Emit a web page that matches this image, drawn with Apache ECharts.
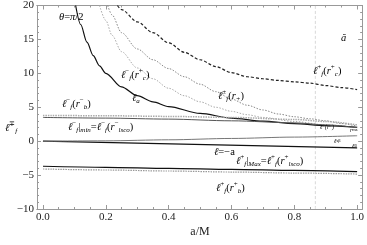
<!DOCTYPE html>
<html><head><meta charset="utf-8">
<script src="https://cdn.jsdelivr.net/npm/echarts@6/dist/echarts.min.js"></script>
<style>html,body{margin:0;padding:0;background:#fff}#c{width:367px;height:245px}</style>
</head><body><div id="c"></div>
<script>
// ---- tick values ----
const xTickLabels = [0, 0.2, 0.4, 0.6, 0.8, 1.0];
const xMinorTicks = [0.05,0.1,0.15,0.25,0.3,0.35,0.45,0.5,0.55,0.65,0.7,0.75,0.85,0.9,0.95];
const yTickLabels = [-10, -5, 0, 5, 10, 15, 20];
const yMinorTicks = [-9,-8,-7,-6,-4,-3,-2,-1,1,2,3,4,6,7,8,9,11,12,13,14,16,17,18,19];

// ---- curves (a/M, l) ----
const la_a = [0.104, 0.12, 0.14, 0.16, 0.18, 0.2, 0.25, 0.3, 0.35, 0.4, 0.5, 0.6, 0.7, 0.8, 0.9, 1.0];
const la_l = [20, 17.2, 14.6, 12.6, 11.1, 10.0, 8.0, 6.7, 5.8, 5.1, 4.1, 3.4, 2.95, 2.6, 2.3, 2.05];

const rcPlus_a = [0.237, 0.25, 0.3, 0.35, 0.4, 0.45, 0.5, 0.55, 0.6, 0.65, 0.7, 0.75, 0.8, 0.85, 0.9, 0.95, 1.0];
const rcPlus_l = [20, 19.4, 17.6, 16.0, 14.5, 13.1, 12.0, 11.0, 10.1, 9.5, 9.2, 8.95, 8.75, 8.55, 8.2, 7.9, 7.6];

const rPlus_a = [0.206, 0.22, 0.25, 0.3, 0.35, 0.4, 0.45, 0.5, 0.55, 0.6, 0.65, 0.7, 0.75, 0.8, 0.85, 0.9, 0.95, 1.0];
const rPlus_l = [20, 18.6, 16.0, 13.6, 12.0, 10.7, 9.5, 8.4, 7.3, 6.2, 5.3, 4.6, 4.0, 3.6, 3.3, 3.0, 2.6, 2.2];

const rcMinus_a = [0.18, 0.2, 0.22, 0.25, 0.3, 0.35, 0.4, 0.45, 0.5, 0.55, 0.6, 0.65, 0.7, 0.8, 0.9, 1.0];
const rcMinus_l = [20, 17.8, 15.6, 13.2, 10.8, 9.2, 7.8, 6.7, 5.8, 5.0, 4.4, 3.9, 3.5, 2.9, 2.4, 2.0];

const flat_a = [0, 0.2, 0.4, 0.6, 0.8, 0.9, 1.0];
const rbMinus_l = [3.8, 3.75, 3.65, 3.5, 3.2, 2.9, 2.4];
const lscoMinus_l = [3.5, 3.4, 3.25, 3.0, 2.7, 2.4, 2.0];

const lin_a = [0, 1.0];
const negA_l = [0, -1.0];
const betaS_a = [0, 0.2, 0.4, 0.6, 0.8, 1.0];
const betaS_l = [0, 0.05, 0.2, 0.4, 0.6, 0.8];

const low_a = [0, 0.2, 0.4, 0.6, 0.8, 1.0];
const lscoPlus_l = [-3.7, -3.85, -4.0, -4.15, -4.3, -4.5];
const rbPlus_l = [-4.1, -4.25, -4.4, -4.55, -4.7, -4.85];

const vLineA = 0.867;

// ---- build ----
const pairs = (xs, ys) => xs.map((x, i) => [x, ys[i]]);
const SERIF = 'Liberation Serif';
const X_MIN = -0.019, X_MAX = 1.016, Y_MIN = -10, Y_MAX = 20;

function line(data, color, width, type, z) {
  return { type: 'line', data, showSymbol: false, smooth: 0.3, smoothMonotone: 'x',
    lineStyle: { color, width, type }, z: z || 2, silent: true, animation: false };
}

const series = [
  line(pairs([vLineA, vLineA], [Y_MIN, Y_MAX]), '#d8d8d8', 1, [3, 2], 1),
  line(pairs(rcPlus_a, rcPlus_l), '#222', 1.2, [3, 2]),
  line(pairs(rPlus_a, rPlus_l), '#888', 1, [1.5, 1.5]),
  line(pairs(rcMinus_a, rcMinus_l), '#aaa', 1, [1.5, 1.5]),
  line(pairs(la_a, la_l), '#111', 1.2, 'solid'),
  line(pairs(flat_a, rbMinus_l), '#aaa', 1.5, [1.5, 1]),
  line(pairs(flat_a, lscoMinus_l), '#555', 1, 'solid'),
  line(pairs(lin_a, negA_l), '#111', 1.2, 'solid'),
  line(pairs(betaS_a, betaS_l), '#777', 1, 'solid'),
  line(pairs(low_a, rbPlus_l), '#999', 1.2, [1.5, 1]),
  line(pairs(low_a, lscoPlus_l), '#111', 1.2, 'solid')
];

function xAx(pos, ticks, len, labels) {
  return { type: 'value', position: pos, min: X_MIN, max: X_MAX,
    axisLine: { show: true, onZero: false, lineStyle: { color: '#999', width: 1 } },
    axisTick: { show: true, inside: true, length: len, customValues: ticks, lineStyle: { color: '#999' } },
    axisLabel: labels ? { show: true, customValues: ticks, formatter: v => v.toFixed(1), fontFamily: SERIF, fontSize: 11, color: '#222', margin: 3 } : { show: false },
    splitLine: { show: false } };
}
function yAx(pos, ticks, len, labels) {
  return { type: 'value', position: pos, min: Y_MIN, max: Y_MAX,
    axisLine: { show: true, onZero: false, lineStyle: { color: '#999', width: 1 } },
    axisTick: { show: true, inside: true, length: len, customValues: ticks, lineStyle: { color: '#999' } },
    axisLabel: labels ? { show: true, customValues: ticks, formatter: v => (v < 0 ? '\u2212' + (-v) : '' + v), fontFamily: SERIF, fontSize: 11, color: '#222', margin: 3 } : { show: false },
    splitLine: { show: false } };
}

const rich = {
  n: { fontFamily: SERIF, fontStyle: 'italic', fontSize: 10.5, color: '#334', lineHeight: 14 },
  r: { fontFamily: SERIF, fontSize: 10.5, color: '#334', lineHeight: 14 },
  sub: { fontFamily: SERIF, fontStyle: 'italic', fontSize: 7, color: '#334', verticalAlign: 'bottom', lineHeight: 10 },
  sup: { fontFamily: SERIF, fontSize: 7, color: '#334', verticalAlign: 'top', lineHeight: 10 },
  t: { fontFamily: SERIF, fontStyle: 'italic', fontSize: 6, color: '#334', lineHeight: 8 },
  ts: { fontFamily: SERIF, fontSize: 4.5, color: '#334', lineHeight: 6 }
};
function label(x, y, text, align) {
  return { type: 'text', x, y, silent: true, z: 10,
    style: { text, rich, align: align || 'left', verticalAlign: 'middle' } };
}
const graphics = [
  label(59, 17, '{n|θ}{r|=}{n|π}{r|/2}'),
  label(121, 75, '{n|ℓ}{sup|−}{sub|f}{r|(}{n|r}{sup|+}{sub|c}{r|)}'),
  label(132, 98, '{n|ℓ}{sub|a}'),
  label(218, 96, '{n|ℓ}{sup|±}{sub|f}{r|(}{n|r}{sub|+}{r|)}'),
  label(341, 38, '{n|ă}'),
  label(313, 71, '{n|ℓ}{sup|+}{sub|f}{r|(}{n|r}{sup|+}{sub|c}{r|)}'),
  label(62, 104, '{n|ℓ}{sup|−}{sub|f}{r|(}{n|r}{sup|−}{sub|b}{r|)}'),
  label(68, 127, '{n|ℓ}{sup|−}{sub|f}{r||}{sub|min}{r|=}{n|ℓ}{sup|−}{sub|f}{r|(}{n|r}{sup|−}{sub|lsco}{r|)}'),
  label(320, 127, '{t|ℓ}{ts|−}{t|(r}{ts|−}{t|)}'),
  label(350, 130, '{t|r}{ts|ms}'),
  label(334, 141, '{t|ℓ}{ts|s}{ts|β}'),
  label(352, 146, '{t|ℓ}{ts|β}'),
  label(214, 152, '{n|ℓ}{r|=−a}'),
  label(236, 161, '{n|ℓ}{sup|+}{sub|f}{r||}{sub|Max}{r|=}{n|ℓ}{sup|+}{sub|f}{r|(}{n|r}{sup|+}{sub|lsco}{r|)}'),
  label(216, 188, '{n|ℓ}{sup|+}{sub|f}{r|(}{n|r}{sup|+}{sub|b}{r|)}'),
  label(5, 128, '{n|ℓ}{sup|∓}{sub|f}'),
  { type: 'text', x: 200, y: 232, silent: true, style: { text: 'a/M', font: '12px "Liberation Serif"', fill: '#222', align: 'center', verticalAlign: 'middle' } }
];

const chart = echarts.init(document.getElementById('c'), null, { renderer: 'canvas' });
chart.setOption({
  animation: false,
  backgroundColor: '#fff',
  grid: { left: 37, top: 5, right: 3, bottom: 36, containLabel: false },
  xAxis: [xAx('bottom', xTickLabels, 4, true), xAx('bottom', xMinorTicks, 2, false), xAx('top', xTickLabels, 4, false), xAx('top', xMinorTicks, 2, false)],
  yAxis: [yAx('left', yTickLabels, 4, true), yAx('left', yMinorTicks, 2, false), yAx('right', yTickLabels, 4, false), yAx('right', yMinorTicks, 2, false)],
  series,
  graphic: graphics
});
</script></body></html>
